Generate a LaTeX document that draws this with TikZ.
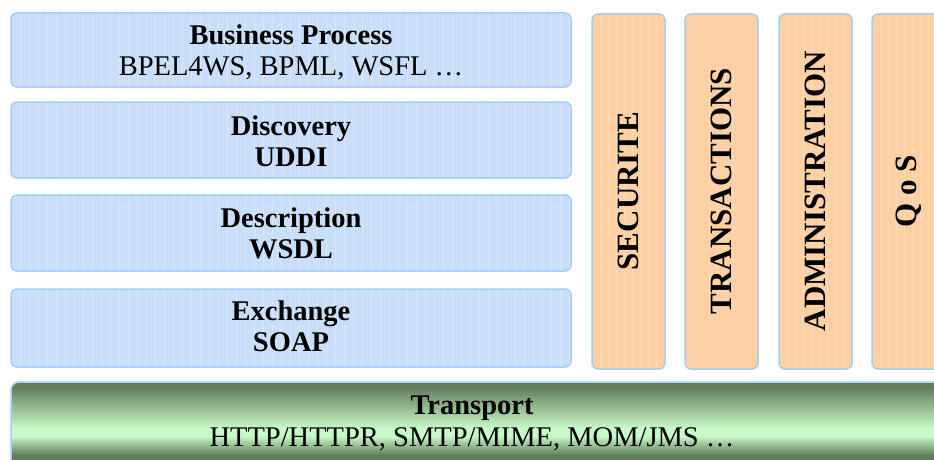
\documentclass[tikz,border=0pt]{standalone}
\usepackage{fontspec}
\setmainfont{Liberation Serif}
\definecolor{edgeblue}{HTML}{A4CDF8}
\definecolor{layerblue}{HTML}{C9DFF9}
\definecolor{gridblue}{HTML}{E3EEFC}
\definecolor{colorange}{HTML}{FDD0A4}
\definecolor{gridorange}{HTML}{FFE0C2}
\definecolor{darkgreen}{HTML}{637C5C}
\definecolor{lightgreen}{HTML}{C8F9C8}
\begin{document}
\begin{tikzpicture}[x=1pt,y=-1pt,
  layerbox/.style={draw=edgeblue,line width=1.5pt,rounded corners=6pt,fill=layerblue},
  colbox/.style={draw=edgeblue,line width=1.5pt,rounded corners=6pt,fill=colorange},
  title/.style={font=\fontsize{28.5}{30}\selectfont\bfseries,inner sep=0pt,anchor=base},
  sub/.style={font=\fontsize{28.5}{30}\selectfont,inner sep=0pt,anchor=base},
  vlabel/.style={font=\fontsize{31}{33}\selectfont\bfseries,inner sep=0pt,rotate=90}]
\useasboundingbox (0,0) rectangle (934,460);
\fill[white] (0,0) rectangle (934,460);

% stacked protocol layers
\foreach \nm/\ya/\yb in {bp/13/87, disc/102/178, desc/195/271, exch/289/367}{
  \draw[layerbox] (11,\ya) rectangle (571,\yb);
  \begin{scope}
    \clip[rounded corners=6pt] (12,\ya+1) rectangle (570,\yb-1);
    \draw[gridblue,line width=0.7pt,opacity=0.6,shift={(11,\ya)}] (0,0) grid[step=9] (560,80);
  \end{scope}
  \coordinate (\nm) at (291,{(\ya+\yb)/2});
}

% vertical cross-cutting columns
\foreach \nm/\xa in {sec/592, trans/685, adm/779, qos/872}{
  \draw[colbox] (\xa,14) rectangle (\xa+73,369);
  \begin{scope}
    \clip[rounded corners=6pt] (\xa+1,15) rectangle (\xa+72,368);
    \draw[gridorange,line width=0.7pt,opacity=0.6,shift={(\xa,14)}] (0,0) grid[step=8] (73,356);
  \end{scope}
  \coordinate (\nm) at (\xa+36.5,191);
}

% transport layer: horizontal strips give the dark-light-dark cylinder look
\begin{scope}
  \clip[rounded corners=8pt] (11,382) rectangle (960,484);
  \fill[darkgreen] (0,380) rectangle (960,388);
  \foreach \yy in {388,...,428}{
    \pgfmathsetmacro\p{(\yy-387)*100/41}
    \fill[lightgreen!\p!darkgreen] (0,\yy) rectangle (960,\yy+1.3);
  }
  \fill[lightgreen] (0,429) rectangle (960,437);
  \foreach \yy in {437,...,455}{
    \pgfmathsetmacro\p{100-(\yy-436)*100/19}
    \fill[lightgreen!\p!darkgreen] (0,\yy) rectangle (960,\yy+1.3);
  }
  \fill[darkgreen] (0,456) rectangle (960,490);
\end{scope}
\draw[draw=edgeblue,line width=1.5pt,rounded corners=8pt]
  (11,382) rectangle (960,484);
\coordinate (tr) at (472,433);

% labels
\node[title] (bpT) at (291,45) {Business Process};
\node[sub]   (bpS) at (291,75) {BPEL4WS, BPML, WSFL …};
\node[title] (diT) at (291,135) {Discovery};
\node[title] (diS) at (291,166) {UDDI};
\node[title] (deT) at (291,227) {Description};
\node[title] (deS) at (291,258) {WSDL};
\node[title] (exT) at (291,320) {Exchange};
\node[title] (exS) at (291,351) {SOAP};
\node[title] (trT) at (472,414) {Transport};
\node[sub]   (trS) at (472,446) {HTTP/HTTPR, SMTP/MIME, MOM/JMS …};

\node[vlabel] (secL) at (sec) {SECURITE};
\node[vlabel] (transL) at (trans) {TRANSACTIONS};
\node[vlabel] (admL) at (adm) {ADMINISTRATION};
\node[vlabel] (qosL) at (qos) {Q o S};
\end{tikzpicture}
\end{document}
